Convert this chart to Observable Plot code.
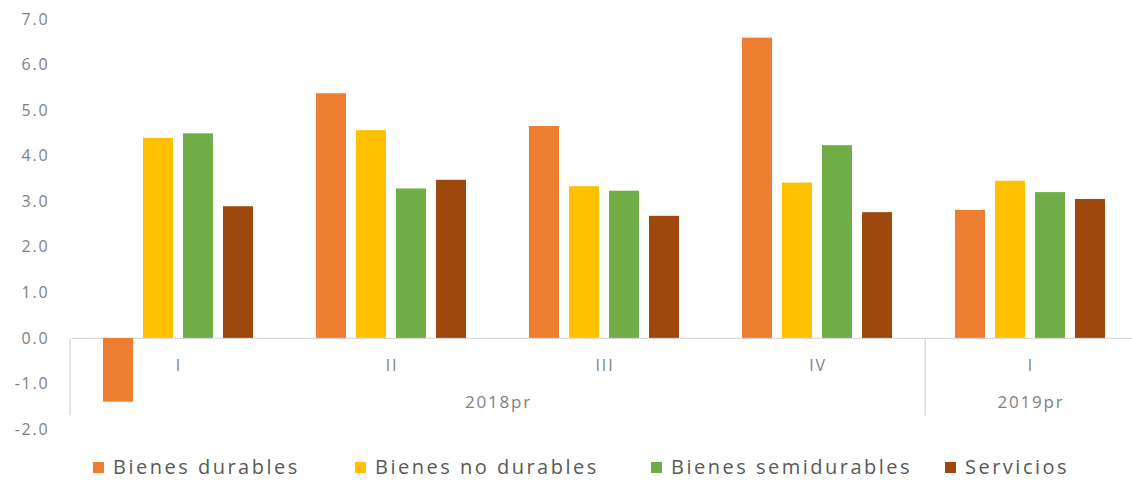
<!DOCTYPE html>
<html>
<head>
<meta charset="utf-8">
<script src="https://cdn.jsdelivr.net/npm/d3@7"></script>
<script src="https://cdn.jsdelivr.net/npm/@observablehq/plot@0.6"></script>
<style>
  body { margin: 0; background: #fff; font-family: "Open Sans", sans-serif; }
  #wrap { position: relative; width: 1132px; height: 485px; overflow: hidden; background: #fff; }
  #chart svg { display: block; }
  #legend { position: absolute; left: 0; top: 440px; width: 1132px; height: 45px; }
  .item { position: absolute; top: 14px; height: 26px; display: flex; align-items: center; }
  .sw { width: 11px; height: 11px; margin-right: 9px; }
  .lab { font-size: 20px; letter-spacing: 2.5px; color: #595959; white-space: nowrap; line-height: 26px; }
</style>
</head>
<body>
<div id="wrap">
  <div id="chart"></div>
  <div id="legend"></div>
</div>
<script>
// ---- data ----
const quarters = ["2018-I", "2018-II", "2018-III", "2018-IV", "2019-I"];
const quarterLabels = ["I", "II", "III", "IV", "I"];
const yearLabels = ["2018pr", "2019pr"];
const series = ["Bienes durables", "Bienes no durables", "Bienes semidurables", "Servicios"];
const colors = ["#ED7D31", "#FFC000", "#70AD47", "#9E480E"];
const durables     = [-1.40, 5.37, 4.65, 6.59, 2.81];
const noDurables   = [4.39, 4.56, 3.33, 3.41, 3.45];
const semidurables = [4.49, 3.28, 3.23, 4.23, 3.20];
const servicios    = [2.89, 3.47, 2.68, 2.76, 3.05];
const yTicks = [-2, -1, 0, 1, 2, 3, 4, 5, 6, 7];
const legendLeft = [93, 355, 651, 945];

// ---- table ----
const seriesValues = [durables, noDurables, semidurables, servicios];
const rows = quarters.flatMap((q, i) =>
  series.map((s, j) => ({quarter: q, series: s, value: seriesValues[j][i]}))
);
const qLabelRows = quarters.map((q, i) => ({quarter: q, label: quarterLabels[i]}));

const grid = "#d9d9d9";
const tickColor = "#7f7f7f";

const plot = Plot.plot({
  width: 1132,
  height: 440,
  marginTop: 19,
  marginBottom: 11,
  marginLeft: 70,
  marginRight: -7,
  style: {fontFamily: "Open Sans, sans-serif", fontSize: "16px", color: tickColor, background: "#fff", overflow: "hidden"},
  fx: {domain: quarters, padding: 0, axis: null, label: null},
  x: {domain: series, paddingInner: 0.24, paddingOuter: 0.76, axis: null, label: null},
  y: {domain: [-2, 7], ticks: yTicks, tickFormat: d => d.toFixed(1), tickSize: 0, tickPadding: 23, label: null, grid: false},
  color: {domain: series, range: colors},
  marks: [
    Plot.ruleY([0], {stroke: grid, strokeWidth: 1.3}),
    Plot.barY(rows, {fx: "quarter", x: "series", y: "value", fill: "series"}),
    Plot.text(qLabelRows, {fx: "quarter", y: () => 0, text: "label", dy: 27, fill: tickColor, fontSize: 16, textAnchor: "middle"}),
    Plot.text([yearLabels[0]], {fx: () => quarters[1], y: () => 0, frameAnchor: "right", text: d => d, dy: 64, fill: tickColor, fontSize: 17, textAnchor: "middle"}),
    Plot.text([yearLabels[1]], {fx: () => quarters[4], y: () => 0, text: d => d, dy: 64, fill: tickColor, fontSize: 17, textAnchor: "middle"})
  ]
});

document.getElementById("chart").appendChild(plot);

// letter spacing on all svg texts (reference is horizontally wide)
d3.select(plot).selectAll("text").style("letter-spacing", "1.8px");

// group separators on the category axis, positioned through Plot's own scales
const fxS = plot.scale("fx");
const yS = plot.scale("y");
const step = (fxS.range[1] - fxS.range[0]) / quarters.length;
const yZero = yS.apply ? yS.apply(0) : (yS.range[0] + (0 - yS.domain[0]) / (yS.domain[1] - yS.domain[0]) * (yS.range[1] - yS.range[0]));
const yBottom = yS.apply ? yS.apply(-1.7) : yZero + 77;
const sepIdx = [0, 4, 5];
d3.select(plot).append("g")
  .selectAll("line")
  .data(sepIdx)
  .join("line")
  .attr("x1", i => fxS.range[0] + i * step)
  .attr("x2", i => fxS.range[0] + i * step)
  .attr("y1", yZero)
  .attr("y2", yBottom)
  .attr("stroke", grid)
  .attr("stroke-width", 1.3);

// legend
const legend = d3.select("#legend");
series.forEach((s, i) => {
  const it = legend.append("div").attr("class", "item").style("left", legendLeft[i] + "px");
  it.append("div").attr("class", "sw").style("background", colors[i]);
  it.append("div").attr("class", "lab").text(s);
});
</script>
</body>
</html>
